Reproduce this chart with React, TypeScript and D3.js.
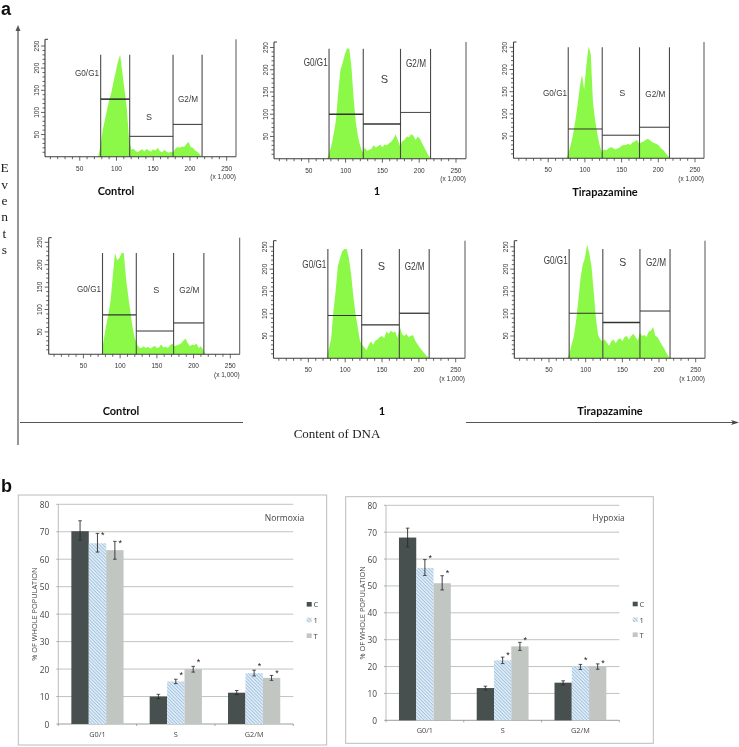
import React from "react";
import * as d3 from "d3";

// ---------- DATA: DNA histograms (events per DNA content bin, x in thousands) ----------
const binStart = d3.range(75, 219, 3);
const ctrlNormoxia = [0,22,58,82,105,128,145,170,192,215,230,190,150,110,42,16,18,13,10,14,17,12,18,14,11,17,14,20,13,10,15,12,9,11,10,18,22,20,23,22,28,34,22,20,14,11,6,0];
const oneNormoxia = [0,14,32,58,88,150,200,215,235,248,248,205,135,80,48,28,14,25,18,20,22,30,25,28,32,26,32,30,35,38,45,55,42,28,40,42,50,48,55,52,42,50,45,35,25,15,6,0];
const tiraNormoxia = [0,15,32,55,85,120,160,188,155,210,252,235,125,85,55,30,14,20,18,22,25,24,20,22,24,28,30,30,33,30,36,38,42,32,36,38,42,44,40,36,34,32,28,22,18,12,6,0];
const ctrlHypoxia = [0,35,65,90,120,175,226,210,215,226,226,170,130,95,60,35,22,15,14,18,14,17,13,16,19,14,16,22,15,17,14,20,24,18,20,22,24,30,35,25,18,22,20,24,14,18,10,0];
const oneHypoxia = [0,22,45,105,150,205,225,240,245,245,225,190,140,100,70,40,30,25,18,30,38,30,40,42,48,50,45,60,55,62,58,60,45,72,55,50,55,48,50,52,40,32,25,18,12,6,2,0];
const tiraHypoxia = [0,12,32,50,85,130,180,210,225,255,235,205,150,90,52,42,38,42,35,28,38,42,34,42,45,38,48,50,42,50,55,48,40,58,50,52,48,60,62,70,50,48,38,30,22,12,4,0];

// gate boundaries (x in thousands) and gate heights (events)
const gateEdges = [
  [78.5, 118, 177, 216.5],
  [77.5, 124, 174.6, 215.4],
  [77.3, 123.6, 174.4, 215.2],
  [76, 122, 172.8, 214],
  [76.5, 122.4, 173.5, 214],
  [77.5, 123.4, 174, 215],
];
const gateHeights = [
  [130, 46, 73],
  [100, 78, 104],
  [66, 52, 70],
  [88, 52, 70],
  [96, 75, 101],
  [101, 80, 106],
];
const gateTops = [230, 247, 250, 226, 245, 245];
const histTitles = ["Control", "1", "Tirapazamine", "Control", "1", "Tirapazamine"];
const gateNames = ["G0/G1", "S", "G2/M"];
const histTicks = [50, 100, 150, 200, 250];

// ---------- DATA: bar charts ----------
const phases = ["G0/1", "S", "G2/M"];
const treatments = ["C", "1", "T"];
const normoxiaMeans = [[70.2, 65.8, 63.3], [10, 15.5, 20], [11.4, 18.5, 16.8]];
const normoxiaHigh = [[74, 69.4, 66.5], [10.8, 16.3, 21], [12.2, 19.6, 17.7]];
const normoxiaLow = [[67, 62.6, 60], [9.2, 14.7, 18.9], [10.7, 17.5, 15.9]];
const normoxiaStars = [[null, 69, 65.8], [null, 18, 22.5], [null, 21.1, 18.5]];
const hypoxiaMeans = [[68, 56.7, 51], [12, 22.3, 27.5], [14, 20, 20]];
const hypoxiaHigh = [[71.5, 59.8, 53.8], [12.7, 23.5, 29], [14.7, 20.8, 21]];
const hypoxiaLow = [[64.5, 53.9, 48.5], [11.3, 21.1, 26], [13.2, 18.9, 19]];
const hypoxiaStars = [[null, 60.3, 54.7], [null, 24.2, 29.9], [null, 22.5, 21.5]];
const percentTicks = [0, 10, 20, 30, 40, 50, 60, 70, 80];

// ---------- LAYOUT ----------
const SANS = "'Liberation Sans', Arial, sans-serif";
const SERIF = "'Liberation Serif', 'Times New Roman', serif";
const CHART = "'Open Sans', sans-serif";
const TITLE = "Lato, sans-serif";
const GREEN = "#8cf94a";
const labelWidths = [24, 0, 20];

type Frame = {
  x0: number; x250: number; bottom: number; y250: number; top: number; right: number;
  label: [number, number][]; title: [number, number]; labelSize: number; weights: number[];
};
const frames: Frame[] = [
  { x0: 43, x250: 226.7, bottom: 156.7, y250: 46, top: 39.3, right: 236, label: [[87, 72.7], [149, 116.7], [188, 99]], title: [116, 190.7], labelSize: 9, weights: [1.6, 1, 1] },
  { x0: 272, x250: 456, bottom: 158.7, y250: 47.5, top: 42, right: 466, label: [[315.7, 61.7], [384.3, 79], [416, 63.3]], title: [377, 190.7], labelSize: 11, weights: [1.6, 1.3, 0.9] },
  { x0: 511.5, x250: 695, bottom: 158.3, y250: 47.3, top: 42, right: 704, label: [[555, 93.3], [622.3, 93.3], [655.3, 93.7]], title: [605, 191], labelSize: 9, weights: [1, 1, 1] },
  { x0: 46.7, x250: 230.3, bottom: 354.3, y250: 242.3, top: 237.7, right: 239.7, label: [[89, 289], [156.3, 290], [189.3, 290]], title: [121, 410.7], labelSize: 9, weights: [1.4, 1.1, 1.1] },
  { x0: 271.5, x250: 455.7, bottom: 358.3, y250: 246.8, top: 240.7, right: 465, label: [[314.3, 263.7], [381.3, 265.7], [414.7, 266]], title: [382, 410.7], labelSize: 11, weights: [1.2, 1.2, 1.3] },
  { x0: 512.3, x250: 695.7, bottom: 358.3, y250: 246.8, top: 240.7, right: 705, label: [[555.7, 260], [622.7, 261.7], [656, 262]], title: [610, 410.7], labelSize: 10.5, weights: [1, 1.5, 1] },
];
const histSeries = [ctrlNormoxia, oneNormoxia, tiraNormoxia, ctrlHypoxia, oneHypoxia, tiraHypoxia];

function Histogram({ index }: { index: number }) {
  const f = frames[index];
  const x = d3.scaleLinear().domain([0, 250]).range([f.x0, f.x250]);
  const y = d3.scaleLinear().domain([0, 250]).range([f.bottom, f.y250]);
  const counts = histSeries[index];
  const area = d3.area<number>()
    .x((_, i) => x(binStart[i]))
    .y0(y(0))
    .y1((d) => y(d));
  const left = f.x0 + 2;
  const ink = "#3c3c3c";
  const edges = gateEdges[index];
  const topY = y(gateTops[index]);
  const minor = d3.range(10, 260, 10);
  const minorY = d3.range(10, 260, 10);
  return (
    <g>
      <path d={area(counts) ?? ""} fill={GREEN} />
      {/* gates */}
      {edges.map((e) => (
        <line key={e} x1={x(e)} x2={x(e)} y1={topY} y2={f.bottom} stroke="#4a4a4a" strokeWidth={1.1} />
      ))}
      {gateHeights[index].map((h, i) => (
        <line key={i} x1={x(edges[i])} x2={x(edges[i + 1])} y1={y(h)} y2={y(h)} stroke="#333" strokeWidth={f.weights[i]} />
      ))}
      {gateNames.map((n, i) => (
        <text key={n} x={f.label[i][0]} y={f.label[i][1]} textAnchor="middle" dominantBaseline="central" fontFamily={SANS} fontSize={f.labelSize} fill="#3a3a3a"
          {...(labelWidths[i] ? { textLength: labelWidths[i], lengthAdjust: "spacingAndGlyphs" } : {})}>{n}</text>
      ))}
      {/* frame */}
      <line x1={left} x2={f.right} y1={f.bottom} y2={f.bottom} stroke={ink} strokeWidth={1.1} />
      <line x1={left} x2={left} y1={f.top} y2={f.bottom} stroke={ink} strokeWidth={1.1} />
      <line x1={f.right} x2={f.right} y1={f.top} y2={f.bottom} stroke="#555" strokeWidth={1} />
      <line x1={left} x2={left + 3} y1={f.top} y2={f.top} stroke={ink} strokeWidth={1} />
      {minor.map((t) => (
        <line key={t} x1={x(t)} x2={x(t)} y1={f.bottom} y2={f.bottom + (t % 50 === 0 ? 4 : 2.5)} stroke={ink} strokeWidth={0.8} />
      ))}
      {minorY.map((t) => (
        <line key={t} x1={left} x2={left - (t % 50 === 0 ? 4 : 2.5)} y1={y(t)} y2={y(t)} stroke={ink} strokeWidth={0.8} />
      ))}
      {histTicks.map((t) => (
        <text key={t} x={x(t)} y={f.bottom + 11.5} textAnchor="middle" dominantBaseline="central" fontFamily={SANS} fontSize={6.5} fill="#333">{t}</text>
      ))}
      {histTicks.map((t) => (
        <text key={t} transform={`translate(${left - 9},${y(t)}) rotate(-90)`} textAnchor="middle" dominantBaseline="central" fontFamily={SANS} fontSize={6.5} fill="#333">{t}</text>
      ))}
      <text x={f.right} y={f.bottom + 20} textAnchor="end" dominantBaseline="central" fontFamily={SANS} fontSize={6.5} fill="#333">(x 1,000)</text>
      <text x={f.title[0]} y={f.title[1]} textAnchor="middle" dominantBaseline="central" fontFamily={TITLE} fontWeight={700} fontSize={11} fill="#111">{histTitles[index]}</text>
    </g>
  );
}

type BarProps = {
  name: string; means: number[][]; high: number[][]; low: number[][]; stars: (number | null)[][];
  box: [number, number, number, number]; axisX: [number, number]; axisY: [number, number];
  nameAt: [number, number]; legendX: number; legendY: number[]; titleX: number; pattern: string;
};

function BarPanel(p: BarProps) {
  const y = d3.scaleLinear().domain([0, 80]).range(p.axisY);
  const x0 = d3.scaleBand<string>().domain(phases).range(p.axisX).paddingInner(1 / 3).paddingOuter(1 / 6);
  const x1 = d3.scaleBand<string>().domain(treatments).range([0, x0.bandwidth()]);
  const fills = ["#474f4f", `url(#${p.pattern})`, "#c1c6c3"];
  const step = (p.axisX[1] - p.axisX[0]) / phases.length;
  return (
    <g>
      <defs>
        <pattern id={p.pattern} width={2.4} height={2.4} patternUnits="userSpaceOnUse" patternTransform="rotate(45)">
          <rect width={2.4} height={2.4} fill="#e6eff7" />
          <rect width={2.4} height={1} fill="#9fc3e2" />
        </pattern>
      </defs>
      <rect x={p.box[0]} y={p.box[1]} width={p.box[2]} height={p.box[3]} fill="#fff" stroke="#b9bdb9" strokeWidth={1} />
      {percentTicks.map((t) => (
        <g key={t}>
          {t > 0 && <line x1={p.axisX[0]} x2={p.axisX[1]} y1={y(t)} y2={y(t)} stroke="#b9bdba" strokeWidth={0.9} />}
          <line x1={p.axisX[0] - 2} x2={p.axisX[0]} y1={y(t)} y2={y(t)} stroke="#999" strokeWidth={0.8} />
          <text x={p.axisX[0] - 9} y={y(t)} textAnchor="end" dominantBaseline="central" fontFamily={CHART} fontSize={8.3} fill="#444">{t}</text>
        </g>
      ))}
      <line x1={p.axisX[0]} x2={p.axisX[0]} y1={y(0)} y2={y(80)} stroke="#a8aca8" strokeWidth={0.8} />
      <line x1={p.axisX[0]} x2={p.axisX[1]} y1={y(0)} y2={y(0)} stroke="#8f938f" strokeWidth={0.9} />
      {d3.range(0, phases.length + 1).map((i) => (
        <line key={i} x1={p.axisX[0] + i * step} x2={p.axisX[0] + i * step} y1={y(0)} y2={y(0) + 2} stroke="#8f938f" strokeWidth={0.8} />
      ))}
      {phases.map((ph, i) => (
        <g key={ph}>
          {treatments.map((tr, j) => {
            const bx = (x0(ph) ?? 0) + (x1(tr) ?? 0);
            const cx = bx + x1.bandwidth() / 2;
            const star = p.stars[i][j];
            return (
              <g key={tr}>
                <rect x={bx} y={y(p.means[i][j])} width={x1.bandwidth()} height={y(0) - y(p.means[i][j])} fill={fills[j]} />
                <line x1={cx} x2={cx} y1={y(p.high[i][j])} y2={y(p.low[i][j])} stroke="#2c2c2c" strokeWidth={0.9} />
                <line x1={cx - 1.8} x2={cx + 1.8} y1={y(p.high[i][j])} y2={y(p.high[i][j])} stroke="#2c2c2c" strokeWidth={0.8} />
                <line x1={cx - 1.8} x2={cx + 1.8} y1={y(p.low[i][j])} y2={y(p.low[i][j])} stroke="#2c2c2c" strokeWidth={0.8} />
                {star !== null && (
                  <text x={cx + 5.4} y={y(star) + 3} textAnchor="middle" fontFamily={SANS} fontSize={9} fill="#222">*</text>
                )}
              </g>
            );
          })}
          <text x={(x0(ph) ?? 0) + x0.bandwidth() / 2} y={p.axisY[0] + 10} textAnchor="middle" dominantBaseline="central" fontFamily={CHART} fontSize={7.3} fill="#444">{ph}</text>
        </g>
      ))}
      <text transform={`translate(${p.titleX},${(p.axisY[0] + p.axisY[1]) / 2}) rotate(-90)`} textAnchor="middle" dominantBaseline="central" fontFamily={CHART} fontSize={7.4} fill="#444">% OF WHOLE POPULATION</text>
      <text x={p.nameAt[0]} y={p.nameAt[1]} textAnchor="middle" dominantBaseline="central" fontFamily={CHART} fontSize={8.5} fill="#444">{p.name}</text>
      {treatments.map((tr, j) => (
        <g key={tr}>
          <rect x={p.legendX} y={p.legendY[j] - 2.3} width={5} height={4.6} fill={fills[j]} />
          <text x={p.legendX + 6.8} y={p.legendY[j]} dominantBaseline="central" fontFamily={CHART} fontSize={7.6} fill="#444">{tr}</text>
        </g>
      ))}
    </g>
  );
}

const eventLetters = ["E", "v", "e", "n", "t", "s"];
const eventYs = [167.7, 184, 200, 216.5, 233, 249];

export default function App() {
  return (
    <svg width={739} height={747} viewBox="0 0 739 747" style={{ position: "absolute", left: 0, top: 0, background: "#fff" }}>
      <defs>
        <filter id="soft" x="-2%" y="-2%" width="104%" height="104%">
          <feGaussianBlur stdDeviation={0.3} />
        </filter>
      </defs>
      <g filter="url(#soft)">
        <text x={1} y={14.5} fontFamily={SANS} fontWeight={700} fontSize={18} fill="#111">a</text>
        <text x={1} y={492} fontFamily={SANS} fontWeight={700} fontSize={18} fill="#111">b</text>

        {/* global axes of part a */}
        <line x1={18} x2={18} y1={28} y2={445} stroke="#6a6a6a" strokeWidth={1.4} />
        <path d="M18 25 L15.5 31 L20.5 31 Z" fill="#555" />
        {eventLetters.map((c, i) => (
          <text key={i} x={4.5} y={eventYs[i]} textAnchor="middle" dominantBaseline="central" fontFamily={SERIF} fontSize={13.5} fill="#222">{c}</text>
        ))}
        <line x1={20} x2={243} y1={422.5} y2={422.5} stroke="#555" strokeWidth={1} />
        <line x1={466} x2={733} y1={422.5} y2={422.5} stroke="#555" strokeWidth={1} />
        <path d="M739 422.5 L731 420 L733 422.5 L731 425 Z" fill="#444" />
        <text x={337} y={433} textAnchor="middle" dominantBaseline="central" fontFamily={SERIF} fontSize={13} fill="#222">Content of DNA</text>

        {frames.map((_, i) => <Histogram key={i} index={i} />)}

        <BarPanel name="Normoxia" means={normoxiaMeans} high={normoxiaHigh} low={normoxiaLow} stars={normoxiaStars}
          box={[18.3, 495, 308.4, 250]} axisX={[58.3, 293.3]} axisY={[724, 504.3]} nameAt={[284.5, 517.7]}
          legendX={306.7} legendY={[604.3, 620, 635.7]} titleX={34} pattern="hatchN" />
        <BarPanel name="Hypoxia" means={hypoxiaMeans} high={hypoxiaHigh} low={hypoxiaLow} stars={hypoxiaStars}
          box={[345.7, 496.7, 307.6, 246.6]} axisX={[386, 619.3]} axisY={[720.3, 505.3]} nameAt={[608.7, 517.7]}
          legendX={632.7} legendY={[604, 619.7, 634.7]} titleX={362} pattern="hatchH" />
      </g>
    </svg>
  );
}
